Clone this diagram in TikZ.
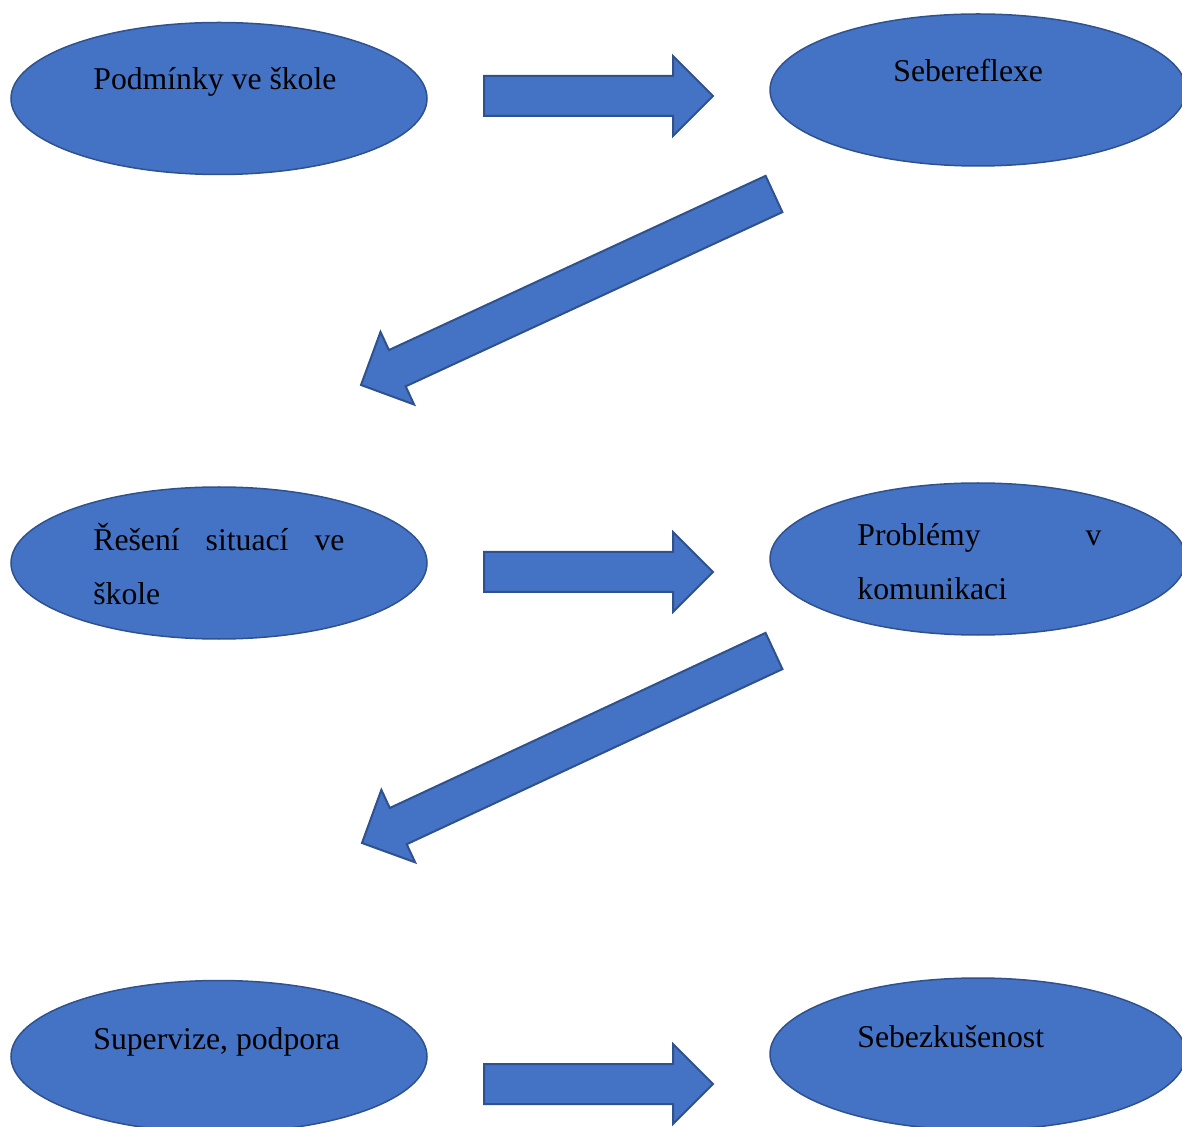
\documentclass[tikz,border=0pt]{standalone}
\usepackage{fontspec}
\setmainfont{Liberation Serif}
\usetikzlibrary{shapes.geometric}
\usetikzlibrary{calc}
\definecolor{ovalblue}{RGB}{68,114,196}
\definecolor{rimblue}{RGB}{47,82,143}
\tikzset{
  oval/.style={ellipse,draw=rimblue,fill=ovalblue,line width=.75pt,
    minimum width=208pt,minimum height=76pt,inner sep=0},
  txt/.style={anchor=base west,inner sep=0,font=\fontsize{15.85pt}{27pt}\selectfont},
  txtbox/.style={txt,text width=#1,align=left},
  blk/.style={draw=rimblue,fill=ovalblue,line width=1pt,line join=miter}
}

\begin{document}
\begin{tikzpicture}[x=.5pt,y=-.5pt]
    \useasboundingbox (0,0) rectangle (1182,1127);

    \node[oval] (pod) at (219,98.5) {};
    \node[txt] (podt) at (93,90) {Podmínky ve škole};
    \node[oval] (seb) at (978,90) {};
    \node[txt] (sebt) at (893,82) {Sebereflexe};

    \node[oval] (res) at (219,563) {};
    \node[txtbox=125.5pt] (rest) at (93,551) {Řešení\hfill situací\hfill ve\\škole};
    \node[oval] (prob) at (978,559) {};
    \node[txtbox=122pt] (probt) at (857,546) {Problémy\hfill v\\komunikaci};

    \node[oval] (sup) at (219,1056.5) {};
    \node[txt] (supt) at (93,1049) {Supervize, podpora};
    \node[oval] (sebz) at (978,1054) {};
    \node[txt] (sebzt) at (857,1047) {Sebezkušenost};

    \coordinate (r1a) at (484,96);   \coordinate (r1b) at (713,96);
    \coordinate (d1a) at (774,194);  \coordinate (d1b) at (361,385);
    \coordinate (r2a) at (484,572);  \coordinate (r2b) at (713,572);
    \coordinate (d2a) at (774,651);  \coordinate (d2b) at (362,843);
    \coordinate (r3a) at (484,1084); \coordinate (r3b) at (713,1084);

    \foreach \a/\b in {r1a/r1b,d1a/d1b,r2a/r2b,d2a/d2b,r3a/r3b}{
      \coordinate (n) at ($(\b)!20pt!(\a)$);
      \draw[blk] ($(\a)!10pt!90:(\b)$) -- ($(n)!10pt!90:(\b)$) -- ($(n)!20pt!90:(\b)$) -- (\b)
        -- ($(n)!20pt!-90:(\b)$) -- ($(n)!10pt!-90:(\b)$) -- ($(\a)!10pt!-90:(\b)$) -- cycle;
    }
\end{tikzpicture}
\end{document}
